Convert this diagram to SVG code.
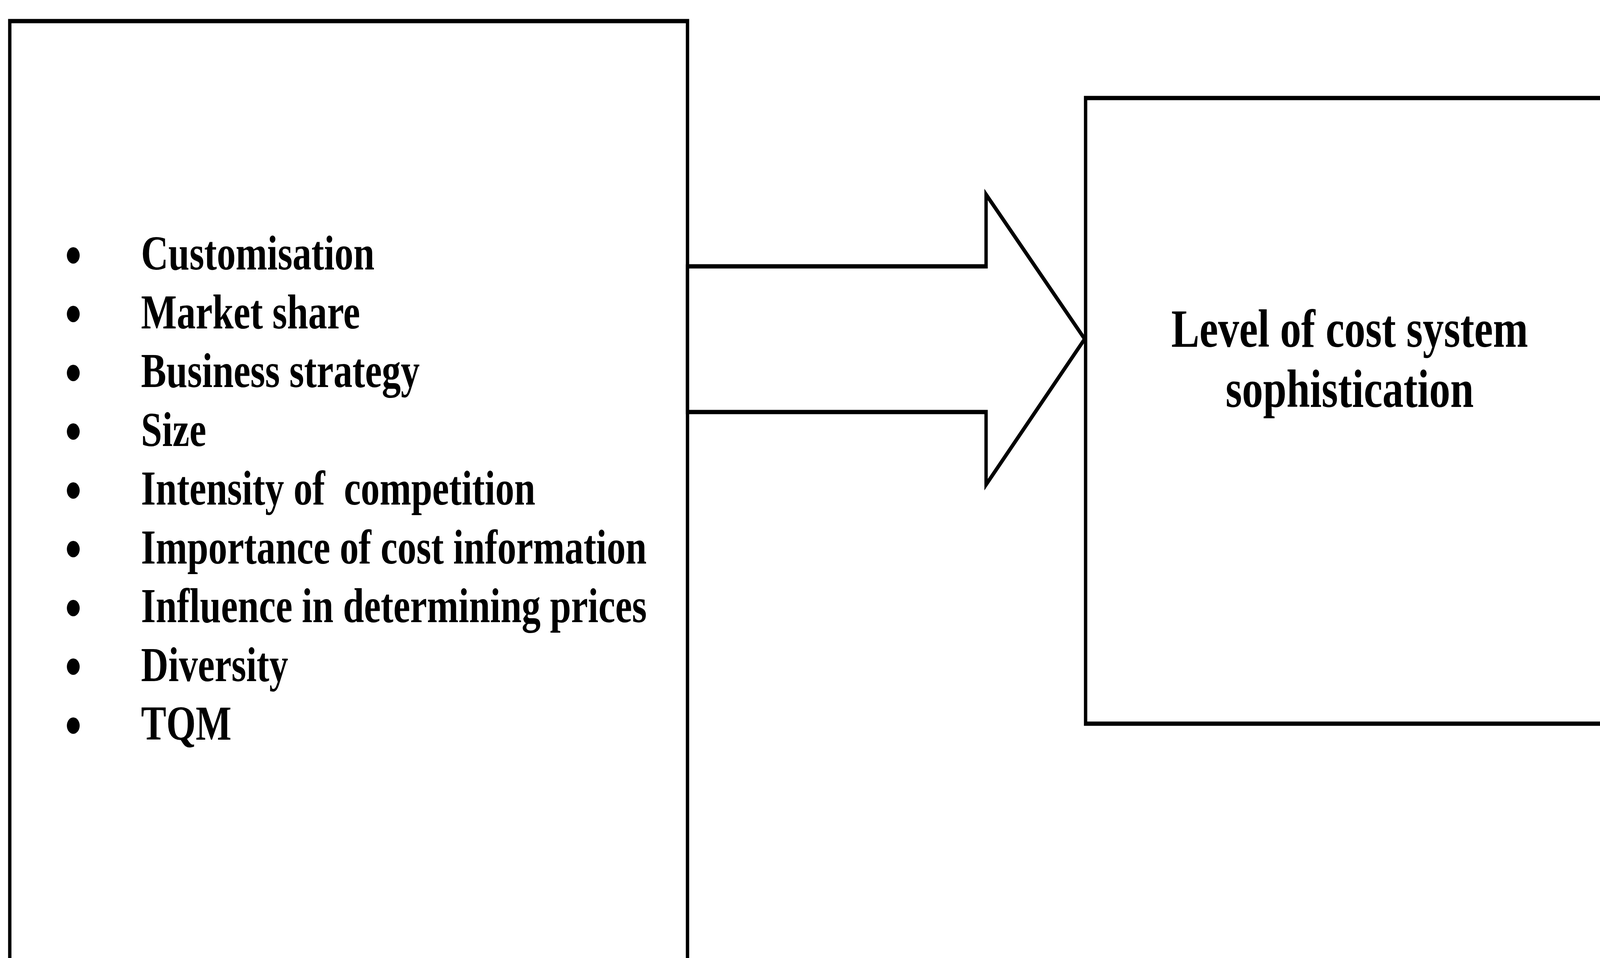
<svg xmlns="http://www.w3.org/2000/svg" width="5241" height="2453" viewBox="0 0 5241 2453" preserveAspectRatio="none">
<style>
svg{width:100vw;height:100vh;display:block}
.box{fill:none;stroke:#000;stroke-width:11}
.arrow{fill:#fff;stroke:#000;stroke-width:11;stroke-linejoin:miter}
.item{font-family:"Liberation Serif","Times New Roman",serif;font-weight:bold;font-size:124px;fill:#000}
.label{font-family:"Liberation Serif","Times New Roman",serif;font-weight:bold;font-size:138px;fill:#000;text-anchor:middle}
.dot{fill:#000}
</style>
<rect width="5241" height="2453" fill="#fff"/>
<g id="factors">
<rect class="box" x="32" y="54" width="2220" height="2450"/>
<g class="dot">
<circle cx="240" cy="654" r="21"/>
<circle cx="240" cy="804" r="21"/>
<circle cx="240" cy="955" r="21"/>
<circle cx="240" cy="1105" r="21"/>
<circle cx="240" cy="1256" r="21"/>
<circle cx="240" cy="1406" r="21"/>
<circle cx="240" cy="1557" r="21"/>
<circle cx="240" cy="1707" r="21"/>
<circle cx="240" cy="1858" r="21"/>
</g>
<text class="item" x="462" y="690">Customisation</text>
<text class="item" x="462" y="841">Market share</text>
<text class="item" x="462" y="991">Business strategy</text>
<text class="item" x="462" y="1142">Size</text>
<text class="item" x="462" y="1292" xml:space="preserve">Intensity of  competition</text>
<text class="item" x="462" y="1443">Importance of cost information</text>
<text class="item" x="462" y="1593">Influence in determining prices</text>
<text class="item" x="462" y="1744">Diversity</text>
<text class="item" x="462" y="1894">TQM</text>
</g>
<g id="connectors">
<polygon class="arrow" points="2252,682 3230,682 3230,498 3553,868 3230,1241 3230,1055 2252,1055"/>
</g>
<g id="outcome">
<rect class="box" x="3556" y="251" width="1720" height="1602"/>
<text class="label" x="4421" y="888">Level of cost system</text>
<text class="label" x="4421" y="1042">sophistication</text>
</g>
</svg>
